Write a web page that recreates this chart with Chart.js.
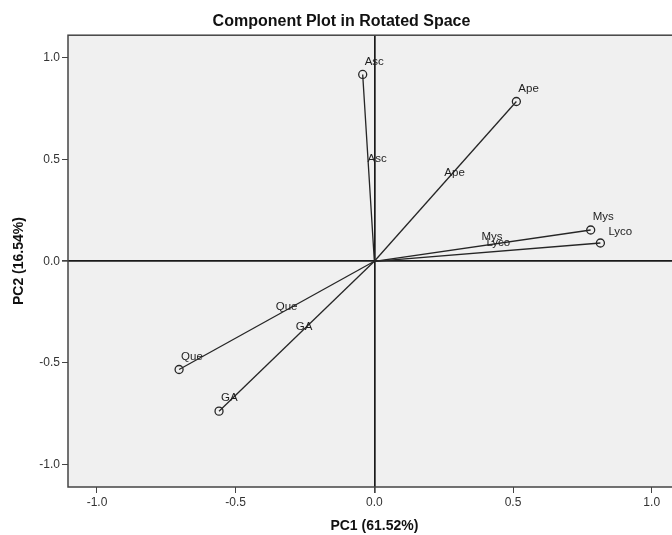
<!DOCTYPE html>
<html>
<head>
<meta charset="utf-8">
<script src="https://cdn.jsdelivr.net/npm/chart.js@4.4.1/dist/chart.umd.min.js"></script>
<style>
    html, body { margin: 0; padding: 0; background: #fff; overflow: hidden; }
    #wrap { width: 686px; height: 535px; }
</style>
</head>
<body>
<div id="wrap"><canvas id="plot" width="686" height="535"></canvas></div>
<script>
// ============================================
// COMPONENT LOADINGS
// ============================================
const variables = ['Asc', 'Ape', 'Mys', 'Lyco', 'Que', 'GA'];
const pc1Loadings = [-0.042, 0.512, 0.780, 0.815, -0.704, -0.560];
const pc2Loadings = [0.919, 0.786, 0.154, 0.090, -0.532, -0.737];
const axisTicks = [-1.0, -0.5, 0.0, 0.5, 1.0];

const FONT = "'Liberation Sans', Arial, sans-serif";
const INK = '#262626';

// one dataset per variable: a line from the origin to its loading
const datasets = variables.map((name, i) => ({
    label: name,
    data: [{ x: 0, y: 0 }, { x: pc1Loadings[i], y: pc2Loadings[i] }],
    showLine: true,
    borderColor: INK,
    borderWidth: 1.3,
    pointRadius: [0, 4],
    pointBorderWidth: 1.3,
    pointBorderColor: INK,
    pointBackgroundColor: 'rgba(0,0,0,0)'
}));

/**
 * Grey plot background, frame and the variable labels
 */
const plotDecor = {
    id: 'plotDecor',
    beforeDraw(chart) {
        const { ctx, chartArea: a } = chart;
        ctx.save();
        ctx.fillStyle = '#f0f0f0';
        ctx.fillRect(a.left, a.top, a.right - a.left, a.bottom - a.top);
        ctx.restore();
    },
    beforeDatasetsDraw(chart) {
        const { ctx, chartArea: a } = chart;
        ctx.save();
        ctx.strokeStyle = '#444';
        ctx.lineWidth = 1.5;
        ctx.strokeRect(a.left, a.top, a.right - a.left, a.bottom - a.top);
        ctx.restore();
    },
    afterDatasetsDraw(chart) {
        const { ctx, scales } = chart;
        ctx.save();
        ctx.font = '11.5px ' + FONT;
        ctx.fillStyle = '#1e1e1e';
        ctx.textAlign = 'left';
        ctx.textBaseline = 'middle';
        variables.forEach((name, i) => {
            const px = scales.x.getPixelForValue(pc1Loadings[i]);
            const py = scales.y.getPixelForValue(pc2Loadings[i]);
            const mx = scales.x.getPixelForValue(pc1Loadings[i] / 2);
            const my = scales.y.getPixelForValue(pc2Loadings[i] / 2);
            // label next to the end point
            if (name === 'Lyco') {
                ctx.fillText(name, px + 8, py - 11);
            } else {
                ctx.fillText(name, px + 2, py - 13);
            }
            // label at the middle of the vector
            ctx.fillText(name, mx - 1, my - 9);
        });
        ctx.restore();
    }
};

const axisCommon = {
    type: 'linear',
    min: -1.1045,
    max: 1.1045,
    afterBuildTicks(scale) {
        scale.ticks = axisTicks.map(v => ({ value: v }));
    },
    border: { display: false },
    grid: {
        color: c => (c.tick && c.tick.value === 0 ? '#1a1a1a' : 'rgba(0,0,0,0)'),
        lineWidth: c => (c.tick && c.tick.value === 0 ? 1.7 : 1),
        drawTicks: true,
        tickColor: '#444',
        tickLength: 6
    },
    ticks: {
        color: '#333',
        font: { family: FONT, size: 12 },
        callback: v => v.toFixed(1)
    }
};

new Chart(document.getElementById('plot'), {
    type: 'scatter',
    data: { datasets },
    options: {
        responsive: false,
        animation: false,
        layout: { padding: { left: 0, right: 3, top: 0, bottom: 0 } },
        plugins: {
            legend: { display: false },
            tooltip: { enabled: false },
            title: {
                display: true,
                text: 'Component Plot in Rotated Space',
                color: '#111',
                font: { family: FONT, size: 16, weight: 'bold' },
                padding: { top: 12, bottom: 4 }
            }
        },
        scales: {
            x: Object.assign({}, axisCommon, {
                position: 'bottom',
                afterFit(scale) { scale.height = 48; },
                ticks: Object.assign({}, axisCommon.ticks, { padding: 2, maxRotation: 0 }),
                title: {
                    display: true,
                    text: 'PC1 (61.52%)',
                    color: '#111',
                    font: { family: FONT, size: 14, weight: 'bold' },
                    padding: { top: 4, bottom: 0 }
                }
            }),
            y: Object.assign({}, axisCommon, {
                min: -1.11,
                max: 1.112,
                position: 'left',
                afterFit(scale) { scale.width = 68; },
                ticks: Object.assign({}, axisCommon.ticks, { padding: 2 }),
                title: {
                    display: true,
                    text: 'PC2 (16.54%)',
                    color: '#111',
                    font: { family: FONT, size: 14, weight: 'bold' },
                    padding: { top: 11, bottom: 0 }
                }
            })
        }
    },
    plugins: [plotDecor]
});
</script>
</body>
</html>
